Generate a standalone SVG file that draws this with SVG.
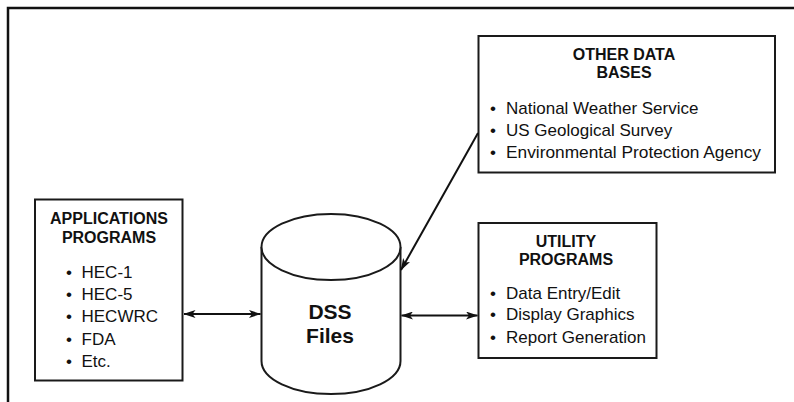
<svg xmlns="http://www.w3.org/2000/svg" width="794" height="402" viewBox="0 0 794 402">
<defs>
<style>
.box{fill:#fff;stroke:#1a1a1a;stroke-width:2}
.frame{fill:none;stroke:#111;stroke-width:2.5}
.title{font-family:"Liberation Sans",Arial,sans-serif;font-weight:bold;font-size:16px;fill:#111;text-anchor:middle}
.item{font-family:"Liberation Sans",Arial,sans-serif;font-size:17px;fill:#111}
.big{font-family:"Liberation Sans",Arial,sans-serif;font-weight:bold;font-size:21px;fill:#111;text-anchor:middle}
.conn{fill:none;stroke:#111;stroke-width:2}
</style>
<marker id="ah" viewBox="0 0 12 8" refX="11.5" refY="4" markerWidth="12" markerHeight="8" markerUnits="userSpaceOnUse" orient="auto-start-reverse">
<path d="M0,0 L12,4 L0,8 L3,4 Z" fill="#111"/>
</marker>
</defs>
<rect width="794" height="402" fill="#fff"/>
<path class="frame" d="M8,402 L8,8 L794,8"/>

<g id="applications">
<rect class="box" x="35" y="199.5" width="147.5" height="181"/>
<text class="title" x="109" y="224">APPLICATIONS</text>
<text class="title" x="109" y="242.5">PROGRAMS</text>
<g class="item">
<text x="66" y="277.5">•</text><text x="81.5" y="277.5">HEC-1</text>
<text x="66" y="299.5">•</text><text x="81.5" y="299.5">HEC-5</text>
<text x="66" y="322">•</text><text x="81.5" y="322">HECWRC</text>
<text x="66" y="344.5">•</text><text x="81.5" y="344.5">FDA</text>
<text x="66" y="367">•</text><text x="81.5" y="367">Etc.</text>
</g>
</g>

<g id="dss">
<path class="box" d="M261.5,247 L261.5,361 A69.5,33 0 0 0 400.5,361 L400.5,247"/>
<ellipse class="box" cx="331" cy="247" rx="69.5" ry="33"/>
<text class="big" x="330" y="318.5">DSS</text>
<text class="big" x="330" y="343">Files</text>
</g>

<g id="otherdb">
<rect class="box" x="478.5" y="36" width="296.5" height="136.5"/>
<text class="title" x="624" y="59.5">OTHER DATA</text>
<text class="title" x="624" y="77.5">BASES</text>
<g class="item">
<text x="490" y="113.5">•</text><text x="506" y="113.5">National Weather Service</text>
<text x="490" y="135.5">•</text><text x="506" y="135.5">US Geological Survey</text>
<text x="490" y="157.5">•</text><text x="506" y="157.5" textLength="255" lengthAdjust="spacingAndGlyphs">Environmental Protection Agency</text>
</g>
</g>

<g id="utility">
<rect class="box" x="478.5" y="223" width="178" height="135"/>
<text class="title" x="566" y="247">UTILITY</text>
<text class="title" x="566" y="265">PROGRAMS</text>
<g class="item">
<text x="490" y="298.5">•</text><text x="506" y="298.5">Data Entry/Edit</text>
<text x="490" y="320">•</text><text x="506" y="320">Display Graphics</text>
<text x="490" y="342.5">•</text><text x="506" y="342.5">Report Generation</text>
</g>
</g>

<g id="connectors">
<line class="conn" x1="184" y1="314" x2="260.5" y2="314" marker-start="url(#ah)" marker-end="url(#ah)"/>
<line class="conn" x1="401.5" y1="315.5" x2="477.5" y2="315.5" marker-start="url(#ah)" marker-end="url(#ah)"/>
<line class="conn" x1="478" y1="133" x2="401" y2="270" marker-end="url(#ah)"/>
</g>
</svg>
